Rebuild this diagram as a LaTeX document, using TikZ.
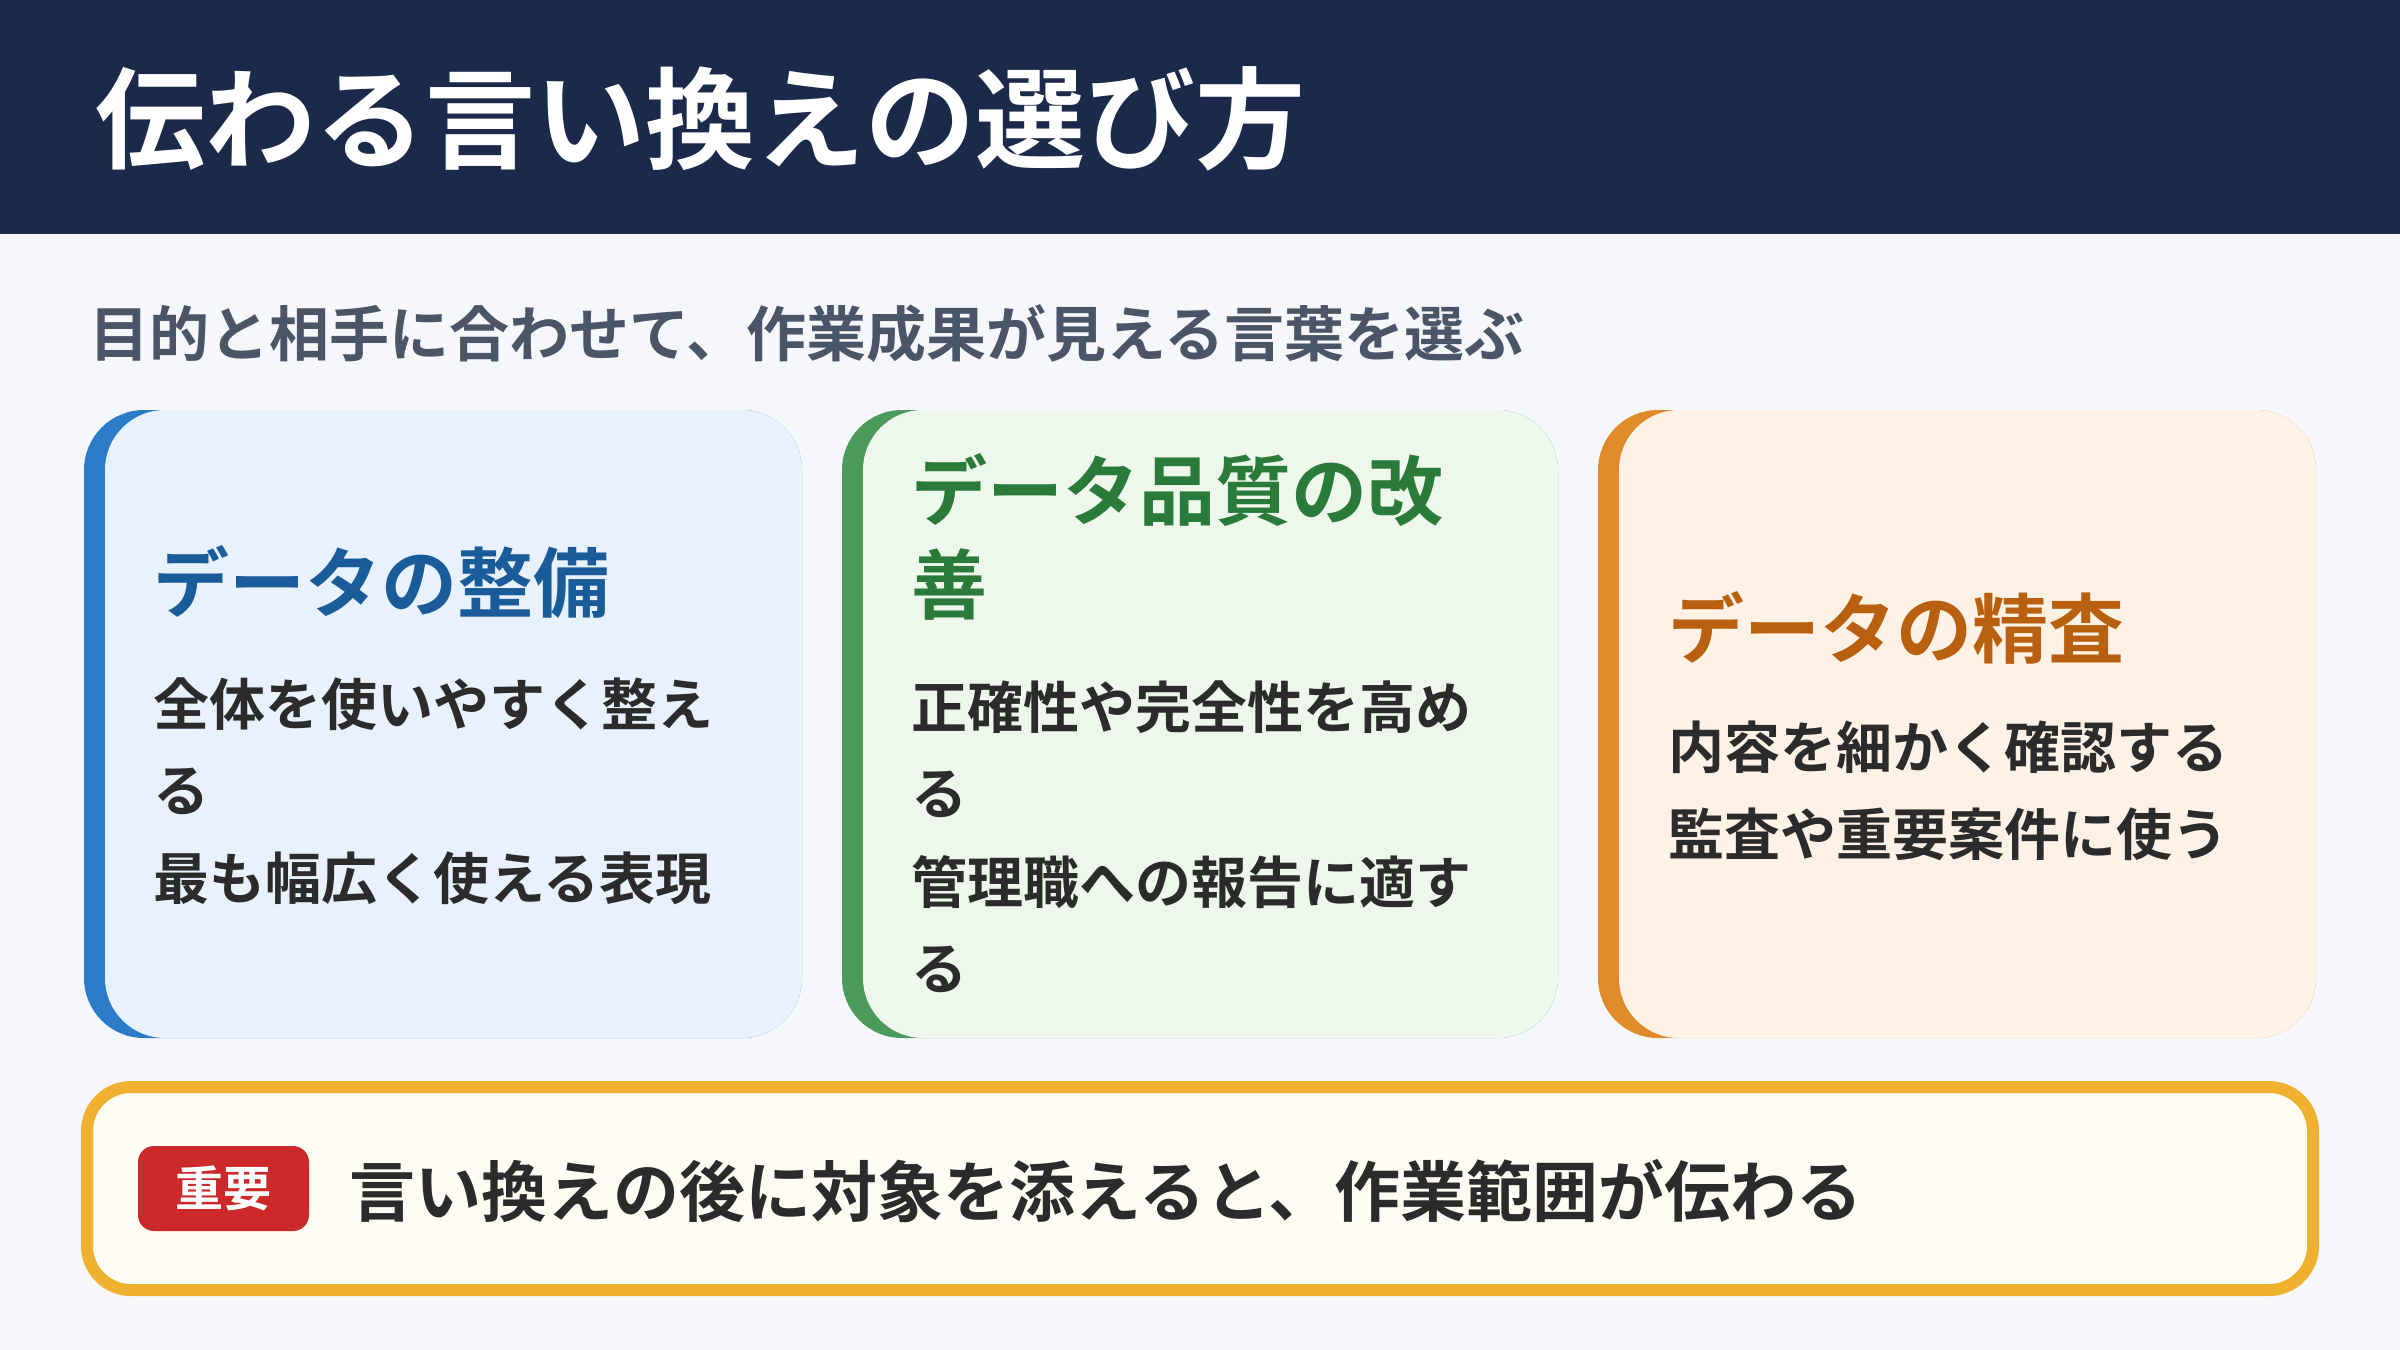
\documentclass[tikz,border=0pt]{standalone}
\usepackage{fontspec}
\setmainfont{Noto Sans CJK JP}[BoldFont={Noto Sans CJK JP Bold}]
\definecolor{hdr}{HTML}{1B2A4B}
\definecolor{bg}{HTML}{F5F7FB}
\definecolor{sub}{HTML}{4A5568}
\definecolor{body}{HTML}{2B2B2B}
\definecolor{bH}{HTML}{1A5B9A}\definecolor{bB}{HTML}{2B7BC8}\definecolor{bF}{HTML}{E8F2FE}
\definecolor{gH}{HTML}{2A7A3A}\definecolor{gB}{HTML}{4A9A5A}\definecolor{gF}{HTML}{EEF7EC}
\definecolor{oH}{HTML}{B8600F}\definecolor{oB}{HTML}{E08A2A}\definecolor{oF}{HTML}{FEF2E6}
\definecolor{gold}{HTML}{F0B030}\definecolor{note}{HTML}{FFFCF4}\definecolor{red}{HTML}{CC2A2A}
\begin{document}
\begin{tikzpicture}[x=0.5pt,y=-0.5pt,
  txt/.style={anchor=west,inner sep=0pt,font=\bfseries},
  head/.style={txt,font=\fontsize{38}{46}\selectfont\bfseries},
  bd/.style={txt,text=body,font=\fontsize{28}{34}\selectfont\bfseries}]
\fill[bg] (0,0) rectangle (2400,1350);
\fill[hdr] (0,0) rectangle (2400,234);
\node[txt,text=white,font=\fontsize{55}{60}\selectfont\bfseries] (title) at (95,119) {伝わる言い換えの選び方};
\node[txt,text=sub,font=\fontsize{30}{36}\selectfont\bfseries] (subt) at (89,334) {目的と相手に合わせて、作業成果が見える言葉を選ぶ};
% cards
\fill[bB,rounded corners=30] (84,410) rectangle (802,1038);
\fill[bF,rounded corners=30] (105,410) rectangle (802,1038);
\fill[gB,rounded corners=30] (842,410) rectangle (1558,1038);
\fill[gF,rounded corners=30] (863,410) rectangle (1558,1038);
\fill[oB,rounded corners=30] (1598,410) rectangle (2316,1038);
\fill[oF,rounded corners=30] (1619,410) rectangle (2316,1038);
\node[head,text=bH] (h1) at (153,582) {データの整備};
\node[bd] (b1a) at (153,704) {全体を使いやすく整え};
\node[bd] (b1b) at (153,791) {る};
\node[bd] (b1c) at (153,878) {最も幅広く使える表現};
\node[head,text=gH] (h2a) at (911,490) {データ品質の改};
\node[head,text=gH] (h2b) at (911,585) {善};
\node[bd] (b2a) at (911,707) {正確性や完全性を高め};
\node[bd] (b2b) at (911,794) {る};
\node[bd] (b2c) at (911,882) {管理職への報告に適す};
\node[bd] (b2d) at (911,969) {る};
\node[head,text=oH] (h3) at (1668,628) {データの精査};
\node[bd] (b3a) at (1668,747) {内容を細かく確認する};
\node[bd] (b3b) at (1668,834) {監査や重要案件に使う};
% note
\draw[gold,line width=6,fill=note,rounded corners=22] (87,1087) rectangle (2313,1290);
\fill[red,rounded corners=8] (138,1146) rectangle (309,1231);
\node[txt,text=white,font=\fontsize{24}{28}\selectfont\bfseries,anchor=center] (badge) at (223.5,1188) {重要};
\node[txt,text=body,font=\fontsize{33}{40}\selectfont\bfseries] (msg) at (349,1191) {言い換えの後に対象を添えると、作業範囲が伝わる};
\end{tikzpicture}
\end{document}
